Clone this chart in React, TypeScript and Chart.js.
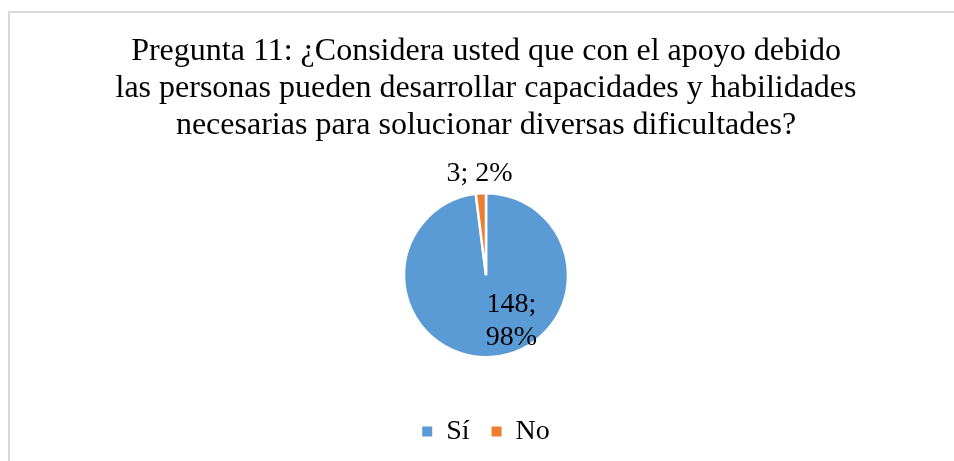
import React, { useEffect, useRef } from "react";
import { Chart, registerables } from "chart.js";

Chart.register(...registerables);

const titleLines = [
  "Pregunta 11: ¿Considera usted que con el apoyo debido",
  "las personas pueden desarrollar capacidades y habilidades",
  "necesarias para solucionar diversas dificultades?",
];
const categories = ["Sí", "No"];
const values = [148, 3];
const colors = ["#5B9BD5", "#ED7D31"];

const FONT = "'Liberation Serif', 'Times New Roman', serif";

const labelPlugin = {
  id: "pieLabels",
  afterDatasetsDraw(chart: any) {
    const ctx = chart.ctx;
    const meta = chart.getDatasetMeta(0);
    const data = chart.data.datasets[0].data as number[];
    const total = data.reduce((a, b) => a + b, 0);
    ctx.save();
    ctx.fillStyle = "#000";
    ctx.font = `28px ${FONT}`;
    ctx.textAlign = "center";
    ctx.textBaseline = "middle";
    meta.data.forEach((el: any, i: number) => {
      const p = el.getProps(["x", "y", "startAngle", "endAngle", "outerRadius"], true);
      const pct = Math.round((data[i] / total) * 100);
      const mid = (p.startAngle + p.endAngle) / 2;
      if (i === 0) {
        const lx = p.x + p.outerRadius * 0.31;
        const ly = p.y + p.outerRadius * 0.55;
        ctx.fillText(`${data[i]};`, lx, ly - 16);
        ctx.fillText(`${pct}%`, lx, ly + 17);
      } else {
        const d = p.outerRadius + 20;
        ctx.fillText(`${data[i]}; ${pct}%`, p.x + Math.cos(mid) * d, p.y + Math.sin(mid) * d);
      }
    });
    ctx.restore();
  },
};

export default function App() {
  const ref = useRef<HTMLCanvasElement | null>(null);
  useEffect(() => {
    if (!ref.current) return;
    const chart = new Chart(ref.current, {
      type: "pie",
      data: {
        labels: categories,
        datasets: [
          {
            data: values,
            backgroundColor: colors,
            borderColor: "#ffffff",
            borderWidth: 2.5,
            radius: 82,
          } as any,
        ],
      },
      options: {
        animation: false,
        responsive: true,
        maintainAspectRatio: false,
        layout: { padding: { left: 18, right: 0, top: 33, bottom: 5.5 } },
        plugins: {
          tooltip: { enabled: false },
          title: {
            display: true,
            text: titleLines,
            color: "#000",
            font: { family: FONT, size: 32, weight: "normal", lineHeight: 1.16 },
            padding: { top: 0, bottom: 10.5 },
          },
          legend: {
            position: "bottom",
            labels: {
              color: "#000",
              font: { family: FONT, size: 28 },
              boxWidth: 10,
              boxHeight: 10,
              padding: 22,
              generateLabels: (c: any) => {
                const items = Chart.overrides.pie.plugins.legend.labels.generateLabels(c);
                return items.map((it: any) => ({ ...it, lineWidth: 0, strokeStyle: "rgba(0,0,0,0)" }));
              },
            },
          },
        },
      },
      plugins: [labelPlugin],
    });
    return () => chart.destroy();
  }, []);
  return (
    <div style={{ position: "absolute", left: 0, top: 0, width: 954, height: 461, background: "#fff", overflow: "hidden" }}>
      <div
        style={{
          position: "absolute",
          left: 8,
          top: 11,
          right: 0,
          bottom: 0,
          borderLeft: "2px solid #d9d9d9",
          borderTop: "2px solid #d9d9d9",
        }}
      />
      <canvas ref={ref} style={{ position: "absolute", left: 0, top: 0, width: 954, height: 461 }} />
    </div>
  );
}
